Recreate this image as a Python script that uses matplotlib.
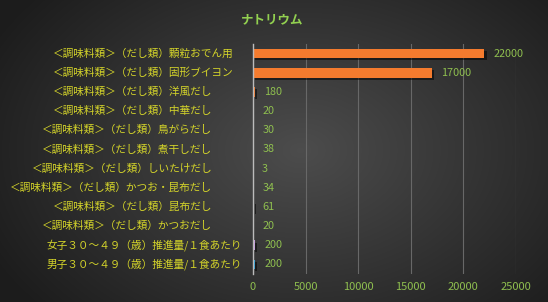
import numpy as np
import matplotlib
matplotlib.use('Agg')
import matplotlib.pyplot as plt
import matplotlib.patheffects as pe
import matplotlib.transforms as mtransforms

plt.rcParams['font.family'] = ['Noto Sans CJK JP', 'DejaVu Sans']

labels = [
    '＜調味料類＞（だし類）顆粒おでん用',
    '＜調味料類＞（だし類）固形ブイヨン',
    '＜調味料類＞（だし類）洋風だし',
    '＜調味料類＞（だし類）中華だし',
    '＜調味料類＞（だし類）鳥がらだし',
    '＜調味料類＞（だし類）煮干しだし',
    '＜調味料類＞（だし類）しいたけだし',
    '＜調味料類＞（だし類）かつお・昆布だし',
    '＜調味料類＞（だし類）昆布だし',
    '＜調味料類＞（だし類）かつおだし',
    '女子３０～４９（歳）推進量/１食あたり',
    '男子３０～４９（歳）推進量/１食あたり',
]
values = [22000, 17000, 180, 20, 30, 38, 3, 34, 61, 20, 200, 200]
colors = ['#f47b2e'] * 10 + ['#c79be0', '#2c9fd6']
# right edge of each category label, in pixels (as laid out in the source)
label_right = [233, 233, 212, 212, 212, 212, 212, 212, 212, 212, 242, 242]

W, H = 548, 302
fig = plt.figure(figsize=(W / 100, H / 100), dpi=100)

# radial dark background
bg = fig.add_axes([0, 0, 1, 1], zorder=0)
yy, xx = np.mgrid[0:H, 0:W]
r = np.sqrt(((xx - 300) / 330.0) ** 2 + ((yy - 150) / 230.0) ** 2)
shade = np.clip(0.30 - 0.18 * r, 0.11, 0.31)
bg.imshow(np.dstack([shade, shade, shade]), aspect='auto', extent=[0, 1, 0, 1])
bg.axis('off')

ax = fig.add_axes([253 / W, 1 - 274 / H, 263 / W, 230 / H], zorder=1)
ax.patch.set_alpha(0)

y = np.arange(len(labels))
bars = ax.barh(y, values, height=0.5, color=colors, zorder=3)
for b in bars:
    b.set_path_effects([pe.SimplePatchShadow(offset=(1.5, -1.5), shadow_rgbFace='black', alpha=0.5), pe.Normal()])

for yi, v in zip(y, values):
    ax.annotate(str(v), (v, yi), xytext=(6.5, 0), textcoords='offset points',
                va='center', ha='left', color='#8fbf4f', fontsize=7.8, zorder=4)

ax.set_xlim(0, 25000)
ax.set_ylim(len(labels) - 0.5, -0.5)
ax.set_xticks(np.arange(0, 25001, 5000))
ax.set_yticks(y)
ax.set_yticklabels([])
ax.tick_params(axis='x', colors='#8fbf4f', labelsize=8, length=0, pad=6)
ax.tick_params(axis='y', length=0)
ax.grid(axis='x', color='#686868', linewidth=0.8, zorder=0)
for s in ['top', 'right', 'bottom']:
    ax.spines[s].set_visible(False)
ax.spines['left'].set_color('#bbbbbb')
ax.spines['left'].set_linewidth(1)
ax.spines['left'].set_zorder(5)

trans = mtransforms.blended_transform_factory(fig.transFigure, ax.transData)
for yi, lab, xr in zip(y, labels, label_right):
    fig.text(xr / W, yi, lab, transform=trans, ha='right', va='center',
             color='#d4d42a', fontsize=7.7)

fig.text(272 / W, 1 - 20 / H, 'ナトリウム', color='#92d050', fontsize=9,
         fontweight='bold', ha='center', va='center')

fig.savefig('out.png', dpi=100)
